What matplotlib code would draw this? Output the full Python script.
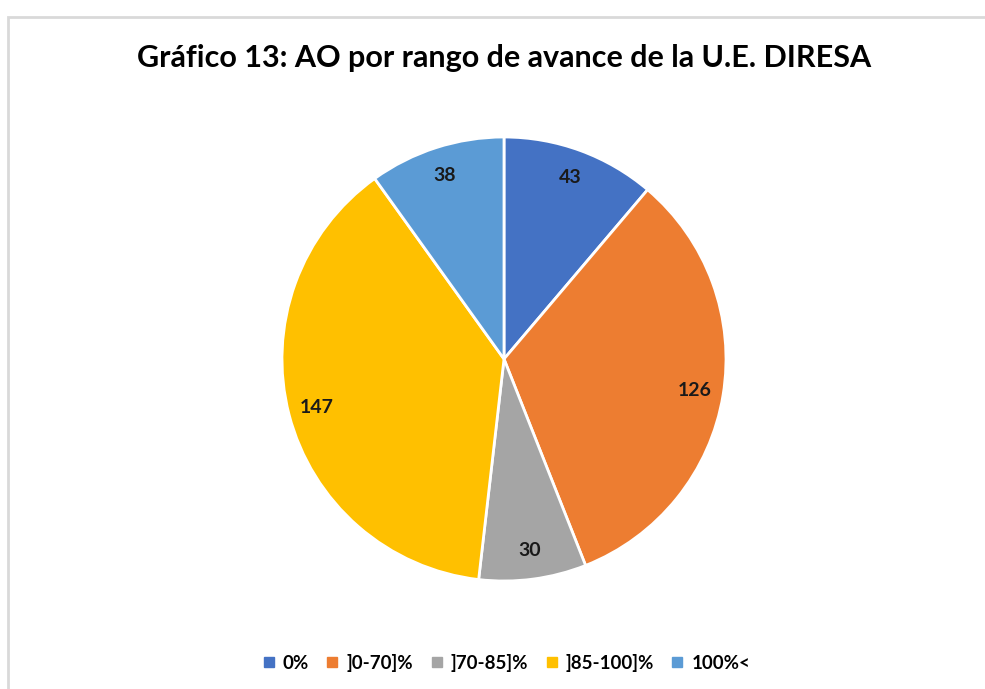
import numpy as np
import matplotlib.pyplot as plt
from matplotlib.patches import Rectangle
from matplotlib.lines import Line2D


# Data
categories = ['0%', ']0-70]%', ']70-85]%', ']85-100]%', '100%<']
values = [43, 126, 30, 147, 38]
colors = ['#4472C4', '#ED7D31', '#A5A5A5', '#FFC000', '#5B9BD5']

plt.rcParams['font.family'] = ['Lato', 'DejaVu Sans']

fig = plt.figure(figsize=(9.85, 6.89), dpi=100)
fig.patch.set_facecolor('white')

# chart border (light gray, runs off right and bottom)
fig.add_artist(Rectangle((8/985, -0.05), 1.1, 1 - 17/689 + 0.05,
                         transform=fig.transFigure, fill=False,
                         edgecolor='#D9D9D9', linewidth=2))

# Pie
cx, cy, r = 504, 689 - 359, 222
ax = fig.add_axes([(cx - r)/985, (cy - r)/689, 2*r/985, 2*r/689])
wedges, _ = ax.pie(values, colors=colors, startangle=90, counterclock=False,
                   radius=1, wedgeprops=dict(edgecolor='white', linewidth=2))
ax.set_xlim(-1, 1)
ax.set_ylim(-1, 1)
ax.set_aspect('equal')
ax.axis('off')

# value labels
total = sum(values)
start = 90
for v in values:
    ang = np.deg2rad(start - v / total * 360 / 2)
    start -= v / total * 360
    ax.text(0.87*np.cos(ang), 0.87*np.sin(ang), str(v), ha='center', va='center',
            fontsize=14, fontweight='bold', color='#1a1a1a')

fig.text(504/985, 1 - 58/689, 'Gráfico 13: AO por rango de avance de la U.E. DIRESA',
         ha='center', va='center', fontsize=22, fontweight='bold', color='black')

handles = [Line2D([], [], marker='s', linestyle='none', markersize=7,
                  markerfacecolor=c, markeredgecolor=c) for c in colors]
fig.legend(handles, categories, loc='center', bbox_to_anchor=(0.514, 1 - 663/689),
           ncol=5, frameon=False, handlelength=0.7, handletextpad=0.4,
           columnspacing=0.9, prop=dict(weight='bold', size=13.5))

plt.savefig('out.png', dpi=100)
